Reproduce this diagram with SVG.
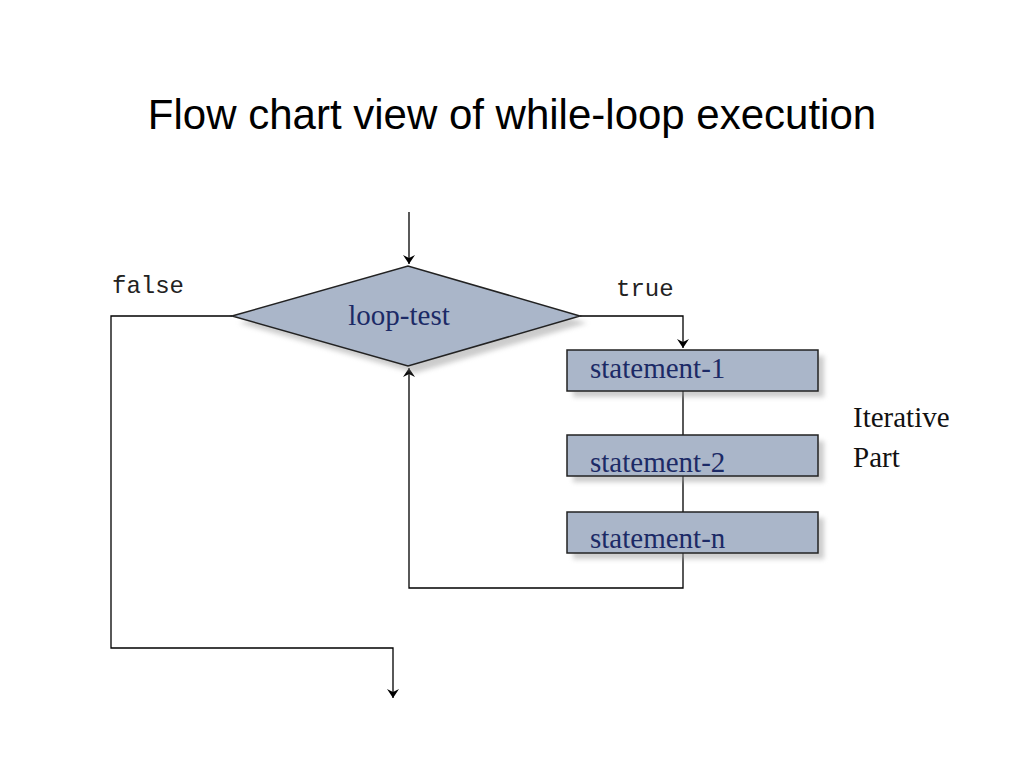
<svg xmlns="http://www.w3.org/2000/svg" width="1024" height="768" viewBox="0 0 1024 768">
<style>
.n{fill:#aab6c9;stroke:#222;stroke-width:1.5}
.sh{fill:#999;opacity:0.5;filter:url(#b)}
.t{font-family:"Liberation Serif",serif;font-size:29px;fill:#1c2a66}
.c{fill:none;stroke:#000;stroke-width:1.3}
.m{font-family:"Liberation Mono",monospace;font-size:24px;fill:#222}
</style>
<defs>
<filter id="b"><feGaussianBlur stdDeviation="2.5"/></filter>
<marker id="a" markerWidth="10" markerHeight="12" refX="9" refY="6" orient="auto" markerUnits="userSpaceOnUse"><path d="M0,0 L9,6 L0,12 L3,6 Z" fill="#000"/></marker>
</defs>
<rect width="1024" height="768" fill="#fff"/>
<text x="512" y="129" text-anchor="middle" font-family="Liberation Sans,sans-serif" font-size="42" fill="#000">Flow chart view of while-loop execution</text>
<g id="connectors">
<path class="c" d="M409,212 V264" marker-end="url(#a)"/>
<path class="c" d="M580,316 H683 V348" marker-end="url(#a)"/>
<path class="c" d="M683,391 V435 M683,476 V512"/>
<path class="c" d="M683,553 V588 H409 V368" marker-end="url(#a)"/>
<path class="c" d="M232,316 H111 V648 H393 V698" marker-end="url(#a)"/>
</g>
<g id="loop-test">
<polygon class="sh" points="239,323 415,273 587,323 415,373"/>
<polygon class="n" points="232,316 408,266 580,316 408,366"/>
<text class="t" x="399" y="325" text-anchor="middle">loop-test</text>
</g>
<g id="statement-1">
<rect class="sh" x="573" y="356" width="251" height="41"/>
<rect class="n" x="567" y="350" width="251" height="41"/>
<text class="t" x="590" y="378">statement-1</text>
</g>
<g id="statement-2">
<rect class="sh" x="573" y="441" width="251" height="41"/>
<rect class="n" x="567" y="435" width="251" height="41"/>
<text class="t" x="590" y="472">statement-2</text>
</g>
<g id="statement-n">
<rect class="sh" x="573" y="518" width="251" height="41"/>
<rect class="n" x="567" y="512" width="251" height="41"/>
<text class="t" x="590" y="548">statement-n</text>
</g>
<text class="m" x="112" y="293">false</text>
<text class="m" x="616" y="296">true</text>
<text x="853" y="427" font-family="Liberation Serif,serif" font-size="29" fill="#111">Iterative</text>
<text x="853" y="467" font-family="Liberation Serif,serif" font-size="29" fill="#111">Part</text>
</svg>
